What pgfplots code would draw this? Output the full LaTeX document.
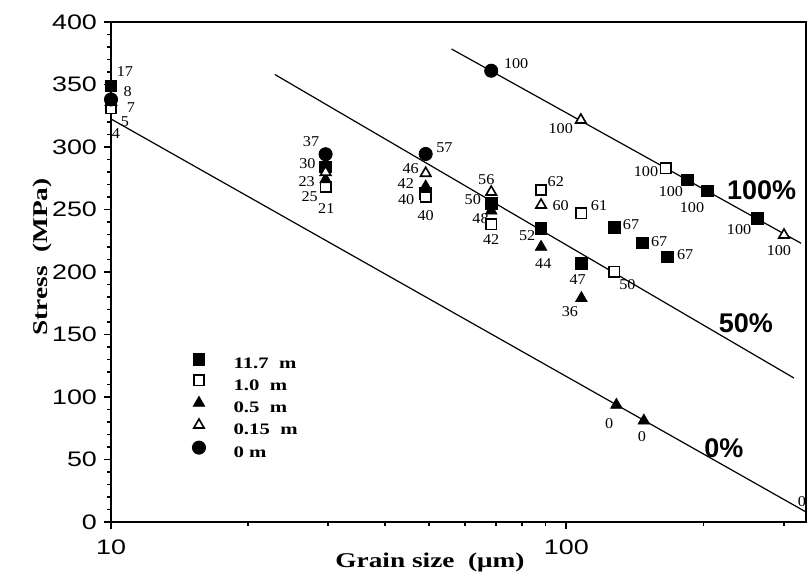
\documentclass[border=0pt]{standalone}
\usepackage{fontspec}
\setmainfont{Liberation Serif}
\newfontfamily\tickfont[FakeStretch=1.28]{Liberation Sans}
\newfontfamily\axfont[FakeStretch=1.3]{Liberation Serif}
\newfontfamily\labfont[FakeStretch=1.08]{Liberation Serif}
\newfontfamily\pctfont{Liberation Sans}
\usepackage{pgfplots}
\pgfplotsset{compat=1.18}
\tikzset{lab/.style={font=\labfont\fontsize{7.5}{9}\selectfont, inner sep=0pt},
         pct/.style={font=\pctfont\bfseries\fontsize{13.5}{16}\selectfont, inner sep=0pt}}
\begin{document}
\begin{tikzpicture}
\path[use as bounding box] (-55.5pt,-27pt) rectangle (348.5pt,261pt);
\begin{axis}[
  at={(0pt,0pt)}, anchor=south west,
  scale only axis, width=347.5pt, height=250pt,
  xmode=log, xmin=10, xmax=336, ymin=0, ymax=400,
  clip=false,
  axis line style={line width=1pt},
  every tick/.style={line width=0.9pt, black},
  major tick length=3.5pt, minor tick length=2pt,
  tick align=outside,
  xtick pos=bottom, ytick pos=left,
  xtick={10,100}, xticklabels={10,100},
  minor xtick={20,30,40,50,60,70,80,90,200,300},
  ytick={0,50,...,400}, minor y tick num=4,
  /pgf/number format/assume math mode=true,
  ticklabel style={font=\tickfont\fontsize{10.5}{12}\selectfont},
  xticklabel style={yshift=-2pt},
  xlabel={\axfont\bfseries Grain size\ \ (μm)},
  ylabel={\axfont\bfseries Stress\ \ (MPa)},
  label style={font=\fontsize{10.5}{12}\selectfont},
  xlabel style={at={(axis description cs:0.459,-0.08)}, anchor=center},
  ylabel style={at={(axis description cs:-0.0993,0.53)}, anchor=center, rotate=0},
  legend style={at={(axis description cs:0.1165,0.338)}, anchor=north west, draw=none, fill=none, inner sep=0pt,
    font=\axfont\bfseries\fontsize{8}{10}\selectfont, row sep=0.6pt, nodes={inner sep=1pt}},
  legend cell align=left,
  legend image code/.code={\draw[#1] plot coordinates {(0pt,3pt)};},
]
% reference lines
\addplot[black, line width=0.6pt, forget plot] coordinates {(10,322.4) (336,8)};
\addplot[black, line width=0.6pt, forget plot] coordinates {(22.9,358) (316,115.2)};
\addplot[black, line width=0.6pt, forget plot] coordinates {(55.96,378.4) (327.6,223)};
% 11.7 m
\addplot[only marks, mark=square*, mark size=2.9pt, black, mark options={fill=black}] coordinates {
(10,348.8) (29.6,284.2) (49.1,263) (68.4,255) (88,235) (107.9,207) (127.4,235.8) (146.8,223.4) (166.5,212) (184.5,273.6) (204,265) (262.8,243)};
\addlegendentry{\hspace{13pt}11.7\ \ m}
% 1.0 m
\addplot[only marks, mark=square*, mark size=2.6pt, black, mark options={fill=white, line width=0.8pt}] coordinates {
(10,331) (29.6,268.3) (49.1,260) (68.4,238) (88,265.6) (107.9,247) (127.4,200.2) (165.4,283)};
\addlegendentry{\hspace{13pt}1.0\ \ m}
% 0.5 m
\addplot[only marks, mark=triangle*, mark size=3.3pt, black, mark options={fill=black}] coordinates {
(10,336) (29.6,274) (49.1,268.3) (68.4,249) (88,220) (107.9,179) (128.8,93.6) (148,81)};
\addlegendentry{\hspace{13pt}0.5\ \ m}
% 0.15 m
\addplot[only marks, mark=triangle*, mark size=3pt, black, mark options={fill=white, line width=0.8pt}] coordinates {
(10,336) (29.6,279.8) (49.1,279) (68.4,264) (88,253.6) (107.6,321.6) (300.6,229.6)};
\addlegendentry{\hspace{13pt}0.15\ \ m}
% 0 m
\addplot[only marks, mark=*, mark size=3.3pt, black, mark options={fill=black}] coordinates {
(10,338) (29.6,294.2) (49.1,294.4) (68.4,361)};
\addlegendentry{\hspace{13pt}0\ m}
% point labels
\node[lab] at (axis cs:10.73,360.2) {17};
\node[lab] at (axis cs:10.88,344.2) {8};
\node[lab] at (axis cs:11.06,331.2) {7};
\node[lab] at (axis cs:10.73,320.2) {5};
\node[lab] at (axis cs:10.25,310.4) {4};
\node[lab] at (axis cs:27.5,304.2) {37};
\node[lab] at (axis cs:27.0,287) {30};
\node[lab] at (axis cs:26.9,272.2) {23};
\node[lab] at (axis cs:27.3,260.2) {25};
\node[lab] at (axis cs:29.7,251) {21};
\node[lab] at (axis cs:54.0,299.2) {57};
\node[lab] at (axis cs:45.5,283) {46};
\node[lab] at (axis cs:44.4,271) {42};
\node[lab] at (axis cs:44.5,257.6) {40};
\node[lab] at (axis cs:49.1,244.8) {40};
\node[lab] at (axis cs:77.6,367) {100};
\node[lab] at (axis cs:66.7,273.6) {56};
\node[lab] at (axis cs:62.3,257.6) {50};
\node[lab] at (axis cs:64.8,243) {48};
\node[lab] at (axis cs:68.4,226) {42};
\node[lab] at (axis cs:94.8,272.2) {62};
\node[lab] at (axis cs:97.2,253) {60};
\node[lab] at (axis cs:118,253) {61};
\node[lab] at (axis cs:82,229) {52};
\node[lab] at (axis cs:89,207) {44};
\node[lab] at (axis cs:105.9,194) {47};
\node[lab] at (axis cs:101.8,168) {36};
\node[lab] at (axis cs:138.7,237.6) {67};
\node[lab] at (axis cs:159.9,224.2) {67};
\node[lab] at (axis cs:182.4,213.6) {67};
\node[lab] at (axis cs:136.2,189.6) {50};
\node[lab] at (axis cs:97.2,315) {100};
\node[lab] at (axis cs:149.6,280.2) {100};
\node[lab] at (axis cs:169.7,264.2) {100};
\node[lab] at (axis cs:188.8,251.2) {100};
\node[lab] at (axis cs:239.5,233.6) {100};
\node[lab] at (axis cs:293,217) {100};
\node[lab] at (axis cs:124.2,79) {0};
\node[lab] at (axis cs:146.6,68.2) {0};
\node[lab] at (axis cs:329,16.2) {0};
% line labels
\node[pct] at (axis cs:268.4,265.6) {100\%};
\node[pct] at (axis cs:248,159.2) {50\%};
\node[pct] at (axis cs:221.7,59) {0\%};
\end{axis}
\end{tikzpicture}
\end{document}
